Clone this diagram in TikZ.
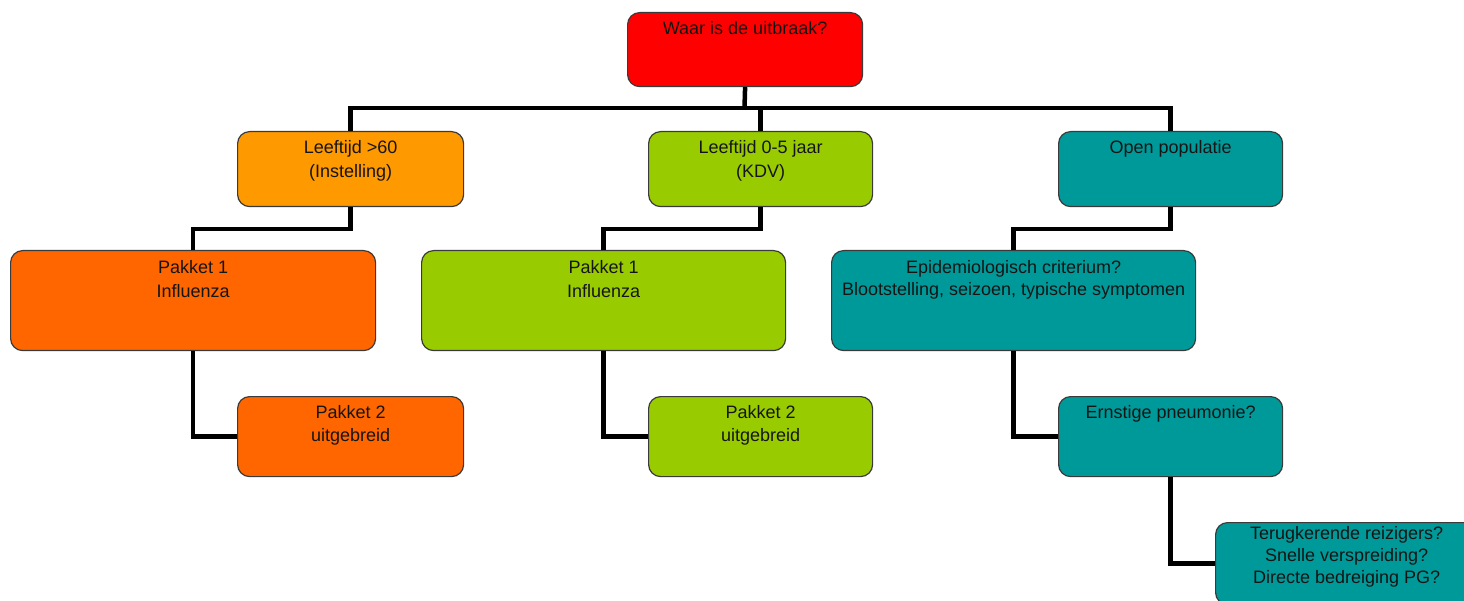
\documentclass[tikz,border=0pt]{standalone}
\usepackage{fontspec}
\setmainfont{Liberation Sans}
\definecolor{cred}{HTML}{FF0000}
\definecolor{clorange}{HTML}{FF9900}
\definecolor{corange}{HTML}{FF6600}
\definecolor{cgreen}{HTML}{99CC00}
\definecolor{cteal}{HTML}{009999}
\definecolor{cborder}{HTML}{3A3A3A}
\definecolor{ctext}{HTML}{151515}
\begin{document}
\begin{tikzpicture}[x=1pt,y=-1pt,
  box/.style={draw=cborder, line width=1.2pt, rounded corners=12pt, inner sep=0pt, anchor=north west},
  txt/.style={anchor=north, align=center, inner sep=0pt, text=ctext, font=\fontsize{18}{22}\selectfont},
  wide/.style={font=\fontsize{18}{24.5}\selectfont},
  conn/.style={draw=black, line width=4.5pt, line join=miter}]
\useasboundingbox (0,0) rectangle (1464,601);
\clip (0,0) rectangle (1464,601);
% boxes
\node[box, fill=cred, minimum width=235pt, minimum height=74pt] (top) at (627,12) {};
\node[box, fill=clorange, minimum width=226pt, minimum height=75pt] (l1a) at (237,131) {};
\node[box, fill=cgreen, minimum width=224pt, minimum height=75pt] (l1b) at (648,131) {};
\node[box, fill=cteal, minimum width=224pt, minimum height=75pt] (l1c) at (1058,131) {};
\node[box, fill=corange, minimum width=365pt, minimum height=100pt] (l2a) at (10,250) {};
\node[box, fill=cgreen, minimum width=364pt, minimum height=100pt] (l2b) at (421,250) {};
\node[box, fill=cteal, minimum width=364pt, minimum height=100pt] (l2c) at (831,250) {};
\node[box, fill=corange, minimum width=226pt, minimum height=80pt] (l3a) at (237,396) {};
\node[box, fill=cgreen, minimum width=224pt, minimum height=80pt] (l3b) at (648,396) {};
\node[box, fill=cteal, minimum width=224pt, minimum height=80pt] (l3c) at (1058,396) {};
\node[box, fill=cteal, minimum width=262pt, minimum height=82pt] (l4) at (1215,522) {};
% texts
\node[txt] (ttop) at ([yshift=-9pt]top.north) {Waar is de uitbraak?};
\node[txt, wide] (tl1a) at ([yshift=-9pt]l1a.north) {Leeftijd >60\\(Instelling)};
\node[txt, wide] (tl1b) at ([yshift=-9pt]l1b.north) {Leeftijd 0-5 jaar\\(KDV)};
\node[txt] (tl1c) at ([yshift=-9pt]l1c.north) {Open populatie};
\node[txt, wide] (tl2a) at ([yshift=-10pt]l2a.north) {Pakket 1\\Influenza};
\node[txt, wide] (tl2b) at ([yshift=-10pt]l2b.north) {Pakket 1\\Influenza};
\node[txt] (tl2c) at ([yshift=-10pt]l2c.north) {Epidemiologisch criterium?\\Blootstelling, seizoen, typische symptomen};
\node[txt, font=\fontsize{18}{23}\selectfont] (tl3a) at ([yshift=-9pt]l3a.north) {Pakket 2\\uitgebreid};
\node[txt, font=\fontsize{18}{23}\selectfont] (tl3b) at ([yshift=-9pt]l3b.north) {Pakket 2\\uitgebreid};
\node[txt] (tl3c) at ([yshift=-9pt]l3c.north) {Ernstige pneumonie?};
\node[txt] (tl4) at ([yshift=-4pt]l4.north) {Terugkerende reizigers?\\Snelle verspreiding?\\Directe bedreiging PG?};
% connectors
\coordinate (j0) at (744.5,108);
\draw[conn] (top.south) -- (j0);
\draw[conn] (l1a.north) |- (j0) -| (l1c.north);
\draw[conn] (l1b.north) -- (l1b.north |- j0);
\draw[conn] (l1a.south) -- ++(0,22) -| (l2a.north);
\draw[conn] (l1b.south) -- ++(0,22) -| (l2b.north);
\draw[conn] (l1c.south) -- ++(0,22) -| (l2c.north);
\draw[conn] (l2a.south) |- (l3a.west);
\draw[conn] (l2b.south) |- (l3b.west);
\draw[conn] (l2c.south) |- (l3c.west);
\draw[conn] (l3c.south) |- (l4.west);
\end{tikzpicture}
\end{document}
